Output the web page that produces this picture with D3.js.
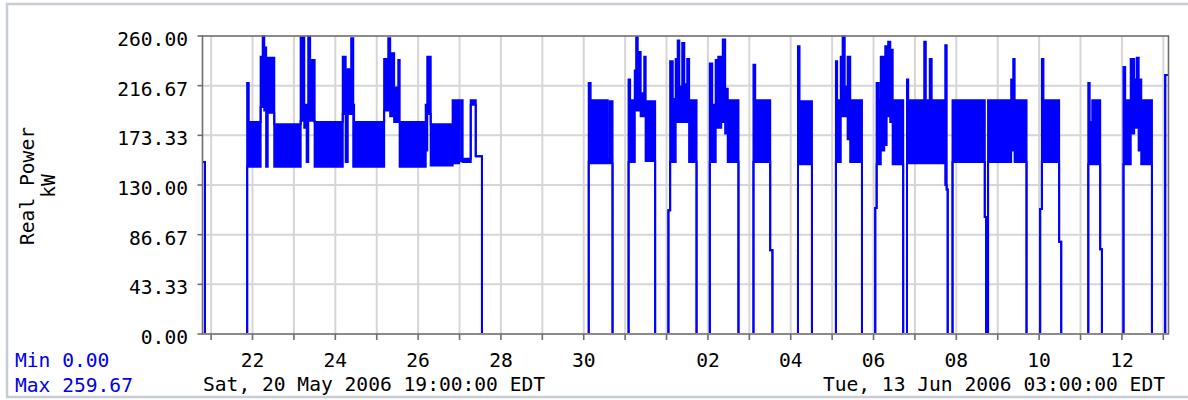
<!DOCTYPE html>
<html>
<head>
<meta charset="utf-8">
<script src="https://cdn.jsdelivr.net/npm/d3@7"></script>
<style>
  body { margin: 0; background: #fff; }
  text { font-family: "DejaVu Sans Mono", monospace; font-size: 19.6px; }
</style>
</head>
<body>
<svg id="chart" width="1188" height="400"></svg>
<script>
// window shown by the chart (EDT wall clock, kept as UTC so days line up)
const START = "2006-05-20T19:00:00Z";
const END = "2006-06-13T03:00:00Z";
const startLabel = "Sat, 20 May 2006 19:00:00 EDT";
const endLabel = "Tue, 13 Jun 2006 03:00:00 EDT";

// hours after START; low / high of the trace until the next entry (kW)
const hours = [0, 1.4, 25.9, 26.8, 33.7, 34.9, 35.8, 36.9, 37.8, 41.6,
  56.9, 59.0, 60.4, 61.3, 62.4, 65.0, 81.3, 83.0, 84.2, 86.2,
  87.4, 87.9, 105.3, 107.7, 108.8, 111.1, 113.5, 114.3, 129.4, 130.3,
  132.3, 145.0, 148.8, 150.0, 150.8, 155.5, 158.4, 162.0,
  223.9, 225.0, 234.9, 236.1, 237.7, 247.0, 247.9, 250.6, 251.4, 252.3,
  254.0, 256.1, 256.9, 262.4, 270.1, 271.1, 272.6, 274.3, 275.5, 276.4,
  278.1, 279.3, 281.0, 282.1, 286.4, 294.1, 295.5, 297.5, 299.0, 300.7,
  301.6, 303.0, 304.5, 310.7, 319.4, 320.4, 329.1, 330.4, 345.2, 346.1,
  353.3, 367.2, 367.9, 370.0, 371.1, 372.3, 374.0, 375.5, 382.3, 390.0,
  390.8, 392.0, 393.2, 395.2, 395.8, 396.6, 397.5, 398.7, 400.1, 406.2,
  408.4, 409.1, 418.4, 419.3, 421.6, 422.7, 430.6, 431.4, 432.0, 434.8,
  453.5, 454.3, 455.4, 468.8, 470.0, 470.8, 477.7, 485.6, 486.6, 487.5,
  496.6, 497.8, 513.5, 514.3, 515.8, 520.4, 521.4, 533.9, 534.9, 538.1,
  540.1, 541.6, 542.7, 544.2, 550.4, 558.1, 560];
const lows = [150, 0, 146, 146, 198, 198, 195, 146, 193, 146,
  186, 180, 150, 186, 186, 146, 192, 150, 192, 192,
  146, 146, 195, 195, 190, 185, 185, 146, 160, 192,
  147, 149, 151, 151, 150, 200, 155, 0,
  150, 149, 150, 149, 0, 150, 150, 195, 195, 195,
  190, 190, 151, 0, 108, 150, 150, 185, 185, 185,
  185, 185, 185, 150, 0, 150, 150, 180, 180, 185,
  185, 175, 150, 0, 150, 150, 73, 0, 148, 148,
  0, 150, 150, 190, 190, 190, 170, 150, 0, 110,
  148, 148, 160, 165, 165, 190, 190, 185, 148, 0,
  149, 149, 160, 149, 160, 149, 130, 126, 0, 150,
  102, 0, 150, 160, 160, 150, 0, 109, 150, 150,
  80.5, 0, 148, 148, 148, 74, 0, 148, 148, 175,
  180, 180, 160, 148, 0, 226, 226];
const highs = [150, 0, 219, 185, 242, 259.7, 250, 195, 241, 183,
  259, 200, 200, 259.5, 239, 185, 242, 230, 231, 258,
  200, 185, 240, 258, 245, 215, 239, 185, 200, 242,
  183, 204, 155, 204, 153, 204, 155, 0,
  219, 204, 153, 203, 0, 222, 204, 230, 259, 246,
  210, 242, 203, 0, 108, 238, 205, 240, 256, 216,
  254, 218, 240, 204, 0, 236, 200, 239, 242, 210,
  257, 214, 204, 0, 235, 204, 73, 0, 251, 203,
  0, 238, 204, 242, 259.5, 216, 242, 204, 0, 110,
  219, 204, 242, 210, 251, 230, 255, 248, 204, 0,
  222, 204, 255, 204, 240, 204, 252, 126, 0, 204,
  102, 0, 204, 222, 240, 204, 0, 109, 240, 204,
  80.5, 0, 219, 185, 204, 74, 0, 233, 204, 240,
  222, 241, 222, 204, 0, 226, 226];

const yTicks = [0, 43.33, 86.67, 130, 173.33, 216.67, 260];
const minValue = "0.00";
const maxValue = "259.67";
const yTitle = ["Real Power", "kW"];

const svg = d3.select("#chart");
const plotL = 202.5, plotR = 1168.5, plotT = 36, plotB = 334;

const t0 = new Date(START);
const x = d3.scaleUtc().domain([t0, new Date(END)]).range([plotL, plotR]);
const y = d3.scaleLinear().domain([0, 260]).range([plotB, plotT]);

const data = hours.map((h, i) => ({
  t: new Date(t0.getTime() + h * 3600e3), lo: lows[i], hi: highs[i]
}));

// keep the zero level of the trace hidden under the axis line
svg.append("defs").append("clipPath").attr("id", "plotclip")
  .append("rect")
  .attr("x", plotL).attr("y", plotT - 2)
  .attr("width", plotR - plotL).attr("height", plotB - plotT + 1);

// outer frame of the picture
svg.append("rect")
  .attr("x", 7).attr("y", 4).attr("width", 1200).attr("height", 393)
  .attr("fill", "none").attr("stroke", "#c8ccd6").attr("stroke-width", 2.5);

// grid
const days = d3.utcDay.range(d3.utcDay.ceil(x.domain()[0]), x.domain()[1]);
svg.append("g").selectAll("line").data(days).join("line")
  .attr("x1", d => x(d)).attr("x2", d => x(d))
  .attr("y1", plotT).attr("y2", plotB)
  .attr("stroke", "#d6d6d6").attr("stroke-width", 2);
svg.append("g").selectAll("line").data(yTicks.slice(1, -1)).join("line")
  .attr("x1", plotL).attr("x2", plotR)
  .attr("y1", d => y(d)).attr("y2", d => y(d))
  .attr("stroke", "#d6d6d6").attr("stroke-width", 2);

// trace, drawn as its low/high envelope
const trace = svg.append("g").attr("clip-path", "url(#plotclip)");
const area = d3.area()
  .x(d => x(d.t)).y0(d => y(d.lo)).y1(d => y(d.hi))
  .curve(d3.curveStepAfter);
trace.append("path").datum(data)
  .attr("d", area).attr("fill", "#0000ff");
["hi", "lo"].forEach(k => {
  trace.append("path").datum(data)
    .attr("d", d3.line().x(d => x(d.t)).y(d => y(d[k])).curve(d3.curveStepAfter))
    .attr("fill", "none").attr("stroke", "#0000ff").attr("stroke-width", 2);
});

// frame and ticks
svg.append("rect")
  .attr("x", plotL).attr("y", plotT).attr("width", plotR - plotL).attr("height", plotB - plotT)
  .attr("fill", "none").attr("stroke", "#6e6e6e").attr("stroke-width", 1.6);

svg.append("g").selectAll("line").data(days).join("line")
  .attr("x1", d => x(d)).attr("x2", d => x(d))
  .attr("y1", plotB).attr("y2", plotB + 6)
  .attr("stroke", "#6e6e6e").attr("stroke-width", 1.6);
svg.append("g").selectAll("line").data(yTicks).join("line")
  .attr("x1", plotL - 5).attr("x2", plotL)
  .attr("y1", d => y(d)).attr("y2", d => y(d))
  .attr("stroke", "#6e6e6e").attr("stroke-width", 1.6);

// labels
svg.append("g").selectAll("text").data(yTicks).join("text")
  .attr("x", 188).attr("y", d => y(d) + 10)
  .attr("text-anchor", "end").attr("fill", "#000")
  .text(d => d.toFixed(2));

const fmtDay = d3.utcFormat("%d");
svg.append("g").selectAll("text").data(days.filter(d => d.getUTCDate() % 2 === 0)).join("text")
  .attr("x", d => x(d)).attr("y", 367)
  .attr("text-anchor", "middle").attr("fill", "#000")
  .text(d => fmtDay(d));

svg.append("text").attr("x", 203).attr("y", 391).text(startLabel);
svg.append("text").attr("x", 1165).attr("y", 391).attr("text-anchor", "end").text(endLabel);

svg.append("text").attr("x", 15).attr("y", 367).attr("fill", "#0000ee").text("Min " + minValue);
svg.append("text").attr("x", 15).attr("y", 392).attr("fill", "#0000ee").text("Max " + maxValue);

svg.append("g").selectAll("text").data(yTitle).join("text")
  .attr("transform", (d, i) => `translate(${34 + i * 21},${(plotT + plotB) / 2 + 1}) rotate(-90)`)
  .attr("text-anchor", "middle").attr("fill", "#000")
  .text(d => d);
</script>
</body>
</html>
